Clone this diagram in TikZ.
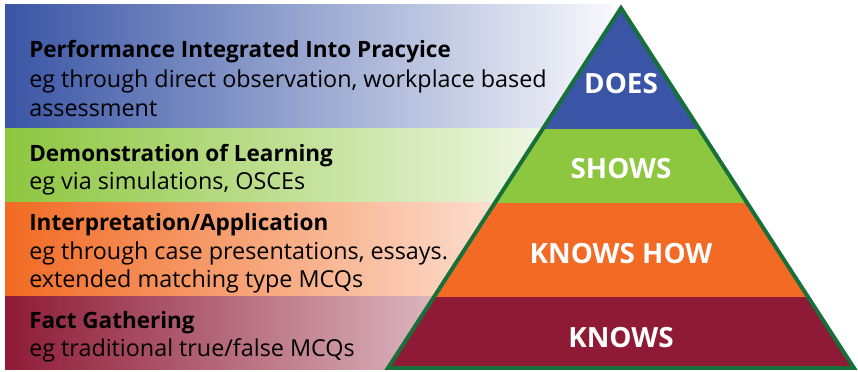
\documentclass[tikz,border=0pt]{standalone}
\usepackage{fontspec}
\setmainfont{Open Sans}
\usetikzlibrary{positioning}

\definecolor{doesblue}{HTML}{3A55A5}
\definecolor{showsgreen}{HTML}{8DC63F}
\definecolor{howorange}{HTML}{F26A23}
\definecolor{knowsred}{HTML}{8E1A36}
\definecolor{edgegreen}{HTML}{17703A}

\begin{document}
\begin{tikzpicture}[x=0.025cm, y=-0.025cm,
    band/.style={left color=#1, right color=#1!4!white, draw=none},
    title/.style={anchor=base west, inner sep=0pt, font=\fontsize{16}{20}\selectfont\bfseries},
    desc/.style={anchor=base west, inner sep=0pt, align=left, font=\fontsize{16.6}{20.5}\selectfont},
    level/.style={text=white, inner sep=0pt, anchor=base, font=\fontsize{19.8}{22}\selectfont\bfseries},
]
\useasboundingbox (0,0) rectangle (858,372);

% shaded bands behind the text
\fill[band=doesblue]   (5,5)   rectangle (612,129);
\fill[band=showsgreen] (5,129) rectangle (612,203);
\fill[band=howorange]  (5,203) rectangle (612,297);
\fill[band=knowsred]   (5,297) rectangle (612,370);

% multi-line descriptions are anchored on their last line
\node[title] (perf) at (29,58) {Performance Integrated Into Pracyice};
\node[desc, font=\fontsize{16.6}{20.8}\selectfont] (perfeg) at (29,116.5) {eg through direct observation, workplace based\\assessment};

\node[title] (demo) at (29,162) {Demonstration of Learning};
\node[desc] (demoeg) at (29,190) {eg via simulations, OSCEs};

\node[title] (interp) at (29,231) {Interpretation/Application};
\node[desc, font=\fontsize{16.6}{20.2}\selectfont] (interpeg) at (29,288) {eg through case presentations, essays.\\extended matching type MCQs};

\node[title] (fact) at (29,329) {Fact Gathering};
\node[desc] (facteg) at (29,357) {eg traditional true/false MCQs};

% the pyramid
\coordinate (apex) at (621,8);
\coordinate (baseL) at (388,368);
\coordinate (baseR) at (854,368);
\begin{scope}
  \clip (apex) -- (baseL) -- (baseR) -- cycle;
  \fill[doesblue]   (380,0)   rectangle (860,129);
  \fill[showsgreen] (380,129) rectangle (860,203);
  \fill[howorange]  (380,203) rectangle (860,297);
  \fill[knowsred]   (380,297) rectangle (860,370);
\end{scope}
\draw[edgegreen, line width=2.8pt, line join=miter] (apex) -- (baseL) -- (baseR) -- cycle;

\node[level] (does) at (621,94) {DOES};
\node[level] (shows) at (621,179) {SHOWS};
\node[level] (knowshow) at (621,264) {KNOWS HOW};
\node[level] (knows) at (621,348) {KNOWS};

\end{tikzpicture}
\end{document}
